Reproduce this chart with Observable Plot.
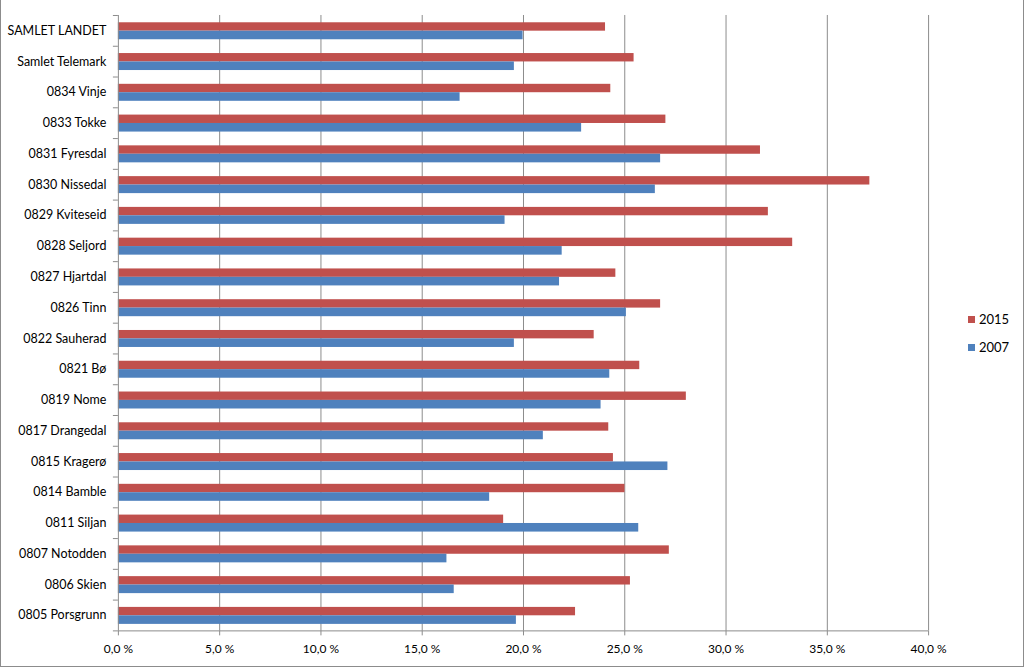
<!DOCTYPE html>
<html>
<head>
<meta charset="utf-8">
<script src="https://cdn.jsdelivr.net/npm/d3@7"></script>
<script src="https://cdn.jsdelivr.net/npm/@observablehq/plot@0.6"></script>
<style>
  html, body { margin: 0; padding: 0; background: #fff; }
  #wrap { position: relative; width: 1022px; height: 666px; border: 1px solid #8c8c8c; border-top: none; overflow: hidden; font-family: Lato, "Open Sans", sans-serif; }
  #chart { position: absolute; left: -1px; top: 0; }
  .legend { position: absolute; left: 967px; font-size: 13px; color: #000; display: flex; align-items: center; }
  .legend span.sw { display: inline-block; width: 7px; height: 7px; margin-right: 4px; }
</style>
</head>
<body>
<div id="wrap">
  <div id="chart"></div>
  <div class="legend" style="top:311px"><span class="sw" style="background:#C0504D"></span>2015</div>
  <div class="legend" style="top:339px"><span class="sw" style="background:#4F81BD"></span>2007</div>
</div>
<script>
const categories = [
  "SAMLET LANDET", "Samlet Telemark", "0834 Vinje", "0833 Tokke", "0831 Fyresdal",
  "0830 Nissedal", "0829 Kviteseid", "0828 Seljord", "0827 Hjartdal", "0826 Tinn",
  "0822 Sauherad", "0821 Bø", "0819 Nome", "0817 Drangedal", "0815 Kragerø",
  "0814 Bamble", "0811 Siljan", "0807 Notodden", "0806 Skien", "0805 Porsgrunn"
];
const values2015 = [24.05, 25.46, 24.31, 27.03, 31.70, 37.10, 32.09, 33.29, 24.56, 26.77,
                    23.49, 25.74, 28.04, 24.21, 24.44, 25.01, 19.02, 27.20, 25.28, 22.57];
const values2007 = [19.98, 19.55, 16.87, 22.87, 26.77, 26.51, 19.09, 21.91, 21.78, 25.08,
                    19.55, 24.26, 23.83, 20.98, 27.13, 18.33, 25.69, 16.22, 16.58, 19.65];
const xTicks = [0, 5, 10, 15, 20, 25, 30, 35, 40];

const rows15 = categories.map((c, i) => ({ name: c, value: values2015[i] }));
const rows07 = categories.map((c, i) => ({ name: c, value: values2007[i] }));
const fmt = d => d.toFixed(1).replace(".", ",") + " %";

const band = (631 - 15) / categories.length;

const chart = Plot.plot({
  width: 1024,
  height: 667,
  marginLeft: 118,
  marginRight: 95,
  marginTop: 15,
  marginBottom: 36,
  style: { fontFamily: "Lato, 'Open Sans', sans-serif", fontSize: "12px", color: "#000", background: "#fff" },
  x: { domain: [0, 40], ticks: xTicks, tickFormat: fmt, label: null },
  y: { domain: categories, padding: 0, round: false, label: null },
  marks: [
    Plot.ruleX(xTicks.slice(1), { stroke: "#8c8c8c", strokeWidth: 1, strokeOpacity: 1 }),
    Plot.barX(rows15, { y: "name", x: "value", fill: "#C0504D", insetTop: 7.3, insetBottom: 15.1 }),
    Plot.barX(rows07, { y: "name", x: "value", fill: "#4F81BD", insetTop: 15.7, insetBottom: 6.5 }),
    Plot.ruleX([0], { stroke: "#8c8c8c", strokeOpacity: 1 }),
    Plot.ruleY([0], { y: () => categories[categories.length - 1], dy: band / 2, stroke: "#8c8c8c", strokeOpacity: 1 }),
    Plot.axisY({ anchor: "left", tickSize: 0, tickPadding: 12, fontSize: 12.5, fill: "#000", label: null }),
    Plot.axisY({ anchor: "left", tickSize: 5, tickFormat: () => "", dy: -band / 2, stroke: "#8c8c8c", strokeOpacity: 1, label: null }),
    Plot.axisY([categories[categories.length - 1]], { anchor: "left", tickSize: 5, tickFormat: () => "", dy: band / 2, stroke: "#8c8c8c", strokeOpacity: 1, label: null }),
    Plot.axisX({ anchor: "bottom", ticks: xTicks, tickFormat: fmt, tickSize: 5, tickPadding: 9, stroke: "#8c8c8c", strokeOpacity: 1, fill: "#000", fontSize: 12, label: null })
  ]
});
document.getElementById("chart").appendChild(chart);
</script>
</body>
</html>
